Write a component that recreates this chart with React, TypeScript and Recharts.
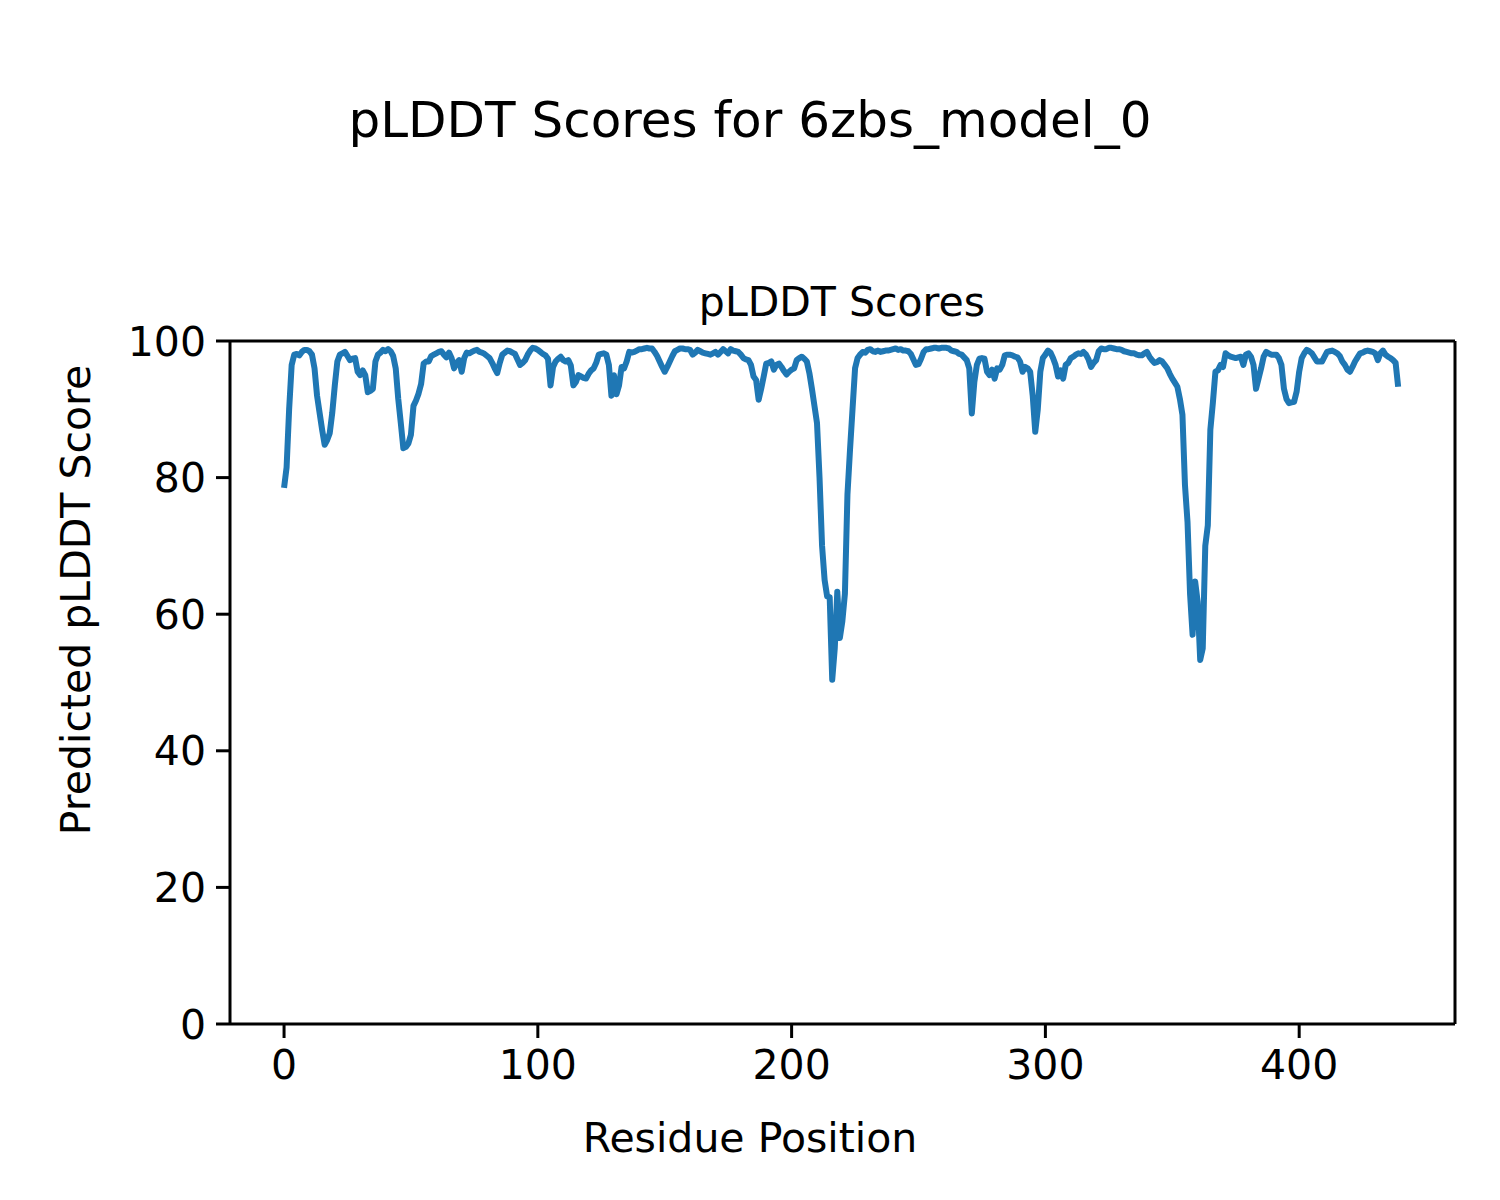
import { LineChart, Line, XAxis, YAxis, ReferenceLine } from "recharts";

// pLDDT per residue (residues 0..439)
const scores = [
  78.5, 81.5, 90, 96.5, 98, 98.1, 97.9, 98.4, 98.7, 98.7,
  98.5, 98.0, 96, 92, 89.5, 87, 84.8, 85.5, 86.5, 89.5,
  93.5, 97, 98, 98.2, 98.4, 97.8, 97.2, 97.4, 97.5, 95.5,
  95, 95.7, 95, 92.5, 92.7, 93, 97, 98, 98.3, 98.7,
  98.5, 98.8, 98.5, 97.8, 96, 91.5, 88, 84.3, 84.5, 85,
  86.3, 90.5, 91.3, 92.3, 93.7, 96.7, 97, 97, 97.8, 98,
  98.2, 98.4, 98.5, 98, 97.6, 98.3, 97.5, 96, 96.8, 97.2,
  95.5, 97.5, 98.3, 98.2, 98.4, 98.6, 98.7, 98.4, 98.3, 98.1,
  97.8, 97.5, 96.8, 96, 95.3, 96.8, 98, 98.3, 98.6, 98.5,
  98.3, 98.1, 97.3, 96.5, 96.8, 97.2, 98, 98.6, 99, 98.9,
  98.7, 98.4, 98.1, 97.9, 97.4, 93.5, 96.2, 97, 97.4, 97.7,
  97.2, 97, 97.2, 96.4, 93.5, 94, 95, 94.8, 94.6, 94.5,
  95.2, 95.7, 96, 96.8, 98, 98.1, 98.2, 98, 96.5, 92,
  95, 92.2, 93.5, 96.2, 96, 97, 98.4, 98.3, 98.4, 98.6,
  98.8, 98.8, 98.9, 99, 98.9, 98.9, 98.4, 97.8, 97, 96.2,
  95.5, 96.2, 97, 97.8, 98.5, 98.7, 98.9, 98.9, 98.8, 98.8,
  98.7, 98, 98.3, 98.7, 98.5, 98.3, 98.2, 98.1, 98, 98.2,
  98.4, 98, 98.4, 98.8, 98.5, 98.2, 98.8, 98.6, 98.5, 98.4,
  98, 97.5, 97.3, 97.2, 96.5, 94.8, 94.3, 91.4, 93, 94.8,
  96.7, 96.8, 97, 95.8, 96.5, 96.7, 96.2, 95.6, 95.1, 95.5,
  95.8, 96, 97.2, 97.5, 97.7, 97.4, 97, 95.3, 93, 90.5,
  88, 80, 70, 65, 62.6, 62.5, 50.4, 55, 63.3, 56.5,
  59, 63, 77.5, 84, 90, 96, 97.5, 98, 98.4, 98.3,
  98.7, 98.8, 98.5, 98.4, 98.6, 98.4, 98.5, 98.6, 98.6, 98.7,
  98.8, 98.9, 98.7, 98.8, 98.6, 98.6, 98.5, 98.1, 97.3, 96.5,
  96.6, 97.4, 98.4, 98.8, 98.8, 98.9, 99, 99, 98.9, 99,
  99, 99, 98.9, 98.6, 98.5, 98.4, 98.1, 98, 97.6, 97.2,
  96, 89.4, 94, 96.5, 97.4, 97.5, 97.4, 95.5, 95, 95.8,
  94.5, 96, 95.8, 96.5, 97.9, 98, 98, 97.9, 97.7, 97.6,
  97, 95.5, 96.2, 96, 95.5, 92, 86.7, 90, 95.5, 97.5,
  98, 98.6, 98.3, 97.5, 96.5, 94.8, 95.7, 94.5, 96.5, 96.8,
  97.5, 97.7, 98, 98.2, 98.1, 98.4, 98, 97.3, 96.2, 96.8,
  97.2, 98.5, 98.9, 98.8, 98.8, 99, 99, 98.9, 98.8, 98.8,
  98.7, 98.5, 98.4, 98.3, 98.2, 98.2, 98, 97.9, 97.9, 98.2,
  98.4, 97.7, 97.2, 96.8, 96.9, 97.2, 97, 96.5, 96, 95.2,
  94.5, 93.9, 93.3, 91.5, 89.2, 78.9, 73.5, 63, 57, 64.8,
  61.8, 53.3, 55, 70, 73, 87, 91, 95.5, 95.7, 96.5,
  96.2, 98.2, 97.9, 97.7, 97.6, 97.5, 97.6, 97.7, 96.5, 98,
  98.2, 97.7, 96.5, 93, 94.5, 96, 97.7, 98.4, 98.2, 98,
  98, 98, 97.5, 96.5, 93, 91.5, 90.9, 91, 91.1, 92.6,
  95.5, 97.5, 98.2, 98.7, 98.5, 98.2, 97.6, 97, 97, 97,
  97.7, 98.4, 98.5, 98.6, 98.4, 98.2, 97.8, 97, 96.5, 95.8,
  95.5, 96.2, 97, 97.6, 98.2, 98.3, 98.5, 98.6, 98.5, 98.4,
  98.2, 97.2, 98.2, 98.6, 98, 97.7, 97.5, 97.2, 96.8, 93.3,
];

const xTicks = [0, 100, 200, 300, 400];
const yTicks = [0, 20, 40, 60, 80, 100];

const data = scores.map((score, residue) => ({ residue, score }));

// x range padded a little on both sides, like matplotlib does
const xMin = -21.3;
const xMax = 461.4;

const font = "'DejaVu Sans', sans-serif";
const tickStyle = { fontSize: 41, fill: "#000", fontFamily: font };

export default function App() {
  return (
    <div style={{ position: "absolute", left: 0, top: 0, width: 1500, height: 1200, background: "#fff" }}>
      <LineChart
        width={1500}
        height={1200}
        data={data}
        margin={{ top: 341, right: 45, bottom: 116, left: 130 }}
      >
        <XAxis
          dataKey="residue"
          type="number"
          domain={[xMin, xMax]}
          ticks={xTicks}
          allowDataOverflow
          height={60}
          stroke="#000"
          strokeWidth={3}
          tickSize={14}
          tickMargin={12}
          tick={tickStyle}
        />
        <YAxis
          type="number"
          domain={[0, 100]}
          ticks={yTicks}
          width={100}
          stroke="#000"
          strokeWidth={3}
          tickSize={14}
          tickMargin={10}
          tick={tickStyle}
        />
        <ReferenceLine y={100} stroke="#000" strokeWidth={3} />
        <ReferenceLine x={xMax} stroke="#000" strokeWidth={3} />
        <Line
          dataKey="score"
          type="linear"
          stroke="#1f77b4"
          strokeWidth={6}
          dot={false}
          strokeLinejoin="round"
          isAnimationActive={false}
        />
      </LineChart>
      <svg
        width={1500}
        height={1200}
        style={{ position: "absolute", left: 0, top: 0, pointerEvents: "none" }}
        fontFamily={font}
      >
        <text x={750} y={137} textAnchor="middle" fontSize={50} fill="#000">
          pLDDT Scores for 6zbs_model_0
        </text>
        <text x={842} y={316} textAnchor="middle" fontSize={41} fill="#000">
          pLDDT Scores
        </text>
        <text x={750} y={1152} textAnchor="middle" fontSize={41} fill="#000">
          Residue Position
        </text>
        <text
          x={0}
          y={0}
          transform="translate(90,600) rotate(-90)"
          textAnchor="middle"
          fontSize={41}
          fill="#000"
        >
          Predicted pLDDT Score
        </text>
      </svg>
    </div>
  );
}
